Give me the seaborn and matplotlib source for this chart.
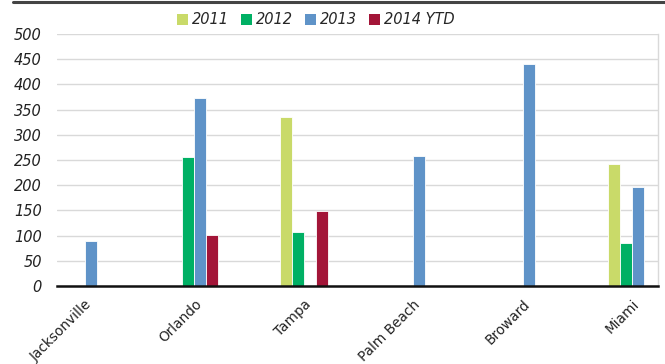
import numpy as np
import pandas as pd
import matplotlib
matplotlib.use("Agg")
import matplotlib.pyplot as plt
import matplotlib.transforms as mtransforms
from matplotlib.lines import Line2D
import seaborn as sns

categories = ["Jacksonville", "Orlando", "Tampa", "Palm Beach", "Broward", "Miami"]
series = ["2011", "2012", "2013", "2014 YTD"]
v2011 = [np.nan, np.nan, 335, np.nan, np.nan, 242]
v2012 = [np.nan, 256, 107, np.nan, np.nan, 85]
v2013 = [89, 373, np.nan, 258, 440, 196]
v2014 = [np.nan, 101, 149, np.nan, np.nan, np.nan]
colors = ["#C9DA69", "#00B064", "#5F93C8", "#A31538"]
yticks = [0, 50, 100, 150, 200, 250, 300, 350, 400, 450, 500]

rows = []
for s, vals in zip(series, [v2011, v2012, v2013, v2014]):
    for c, v in zip(categories, vals):
        rows.append({"city": c, "year": s, "value": v})
df = pd.DataFrame(rows)

sns.set_theme(style="white")
plt.rcParams["font.family"] = ["DejaVu Sans"]

fig = plt.figure(figsize=(6.65, 3.64), dpi=100)
ax = fig.add_axes([57/665, 1-286/364, (658-57)/665, (286-34)/364])

sns.barplot(data=df, x="city", y="value", hue="year", order=categories,
            hue_order=series, palette=colors, saturation=1, width=0.44, gap=0,
            edgecolor="white", linewidth=0.6, ax=ax, legend=False)

ax.set_xlim(-0.256, 5.238)
ax.set_ylim(0, 500)
ax.set_yticks(yticks)
ax.set_yticklabels([str(t) for t in yticks], fontsize=10.5, style="italic", color="#222222")
ax.yaxis.grid(True, color="#D9D9D9", linewidth=1)
ax.set_axisbelow(True)
ax.tick_params(axis="y", length=0, pad=11)
ax.tick_params(axis="x", length=0, pad=8)
ax.set_xlabel("")
ax.set_ylabel("")
for sp in ["left", "top"]:
    ax.spines[sp].set_visible(False)
ax.spines["right"].set_color("#D9D9D9")
ax.spines["right"].set_linewidth(1)
ax.spines["bottom"].set_color("#111111")
ax.spines["bottom"].set_linewidth(1.8)

ax.set_xticks(range(len(categories)))
ax.set_xticklabels(categories, rotation=45, ha="right", va="top",
                   rotation_mode="anchor", fontsize=9.8, color="#222222")
offset = mtransforms.ScaledTranslation(0, 0, fig.dpi_scale_trans)
for lab in ax.get_xticklabels():
    lab.set_transform(lab.get_transform() + offset)

# legend
handles = [plt.Rectangle((0, 0), 1, 1, facecolor=c, edgecolor="none") for c in colors]
fig.legend(handles, series, loc="center", bbox_to_anchor=(316/665, 1-20/364),
           ncol=4, frameon=False, prop={"size": 10.5, "style": "italic"},
           handlelength=0.7, handleheight=0.7, handletextpad=0.3, columnspacing=0.85)

# top dark line
fig.add_artist(Line2D([13/665, 1.0], [1-2/364, 1-2/364], color="#444444", linewidth=2.2,
                      transform=fig.transFigure))

fig.savefig("out.png", dpi=100, facecolor="white")
